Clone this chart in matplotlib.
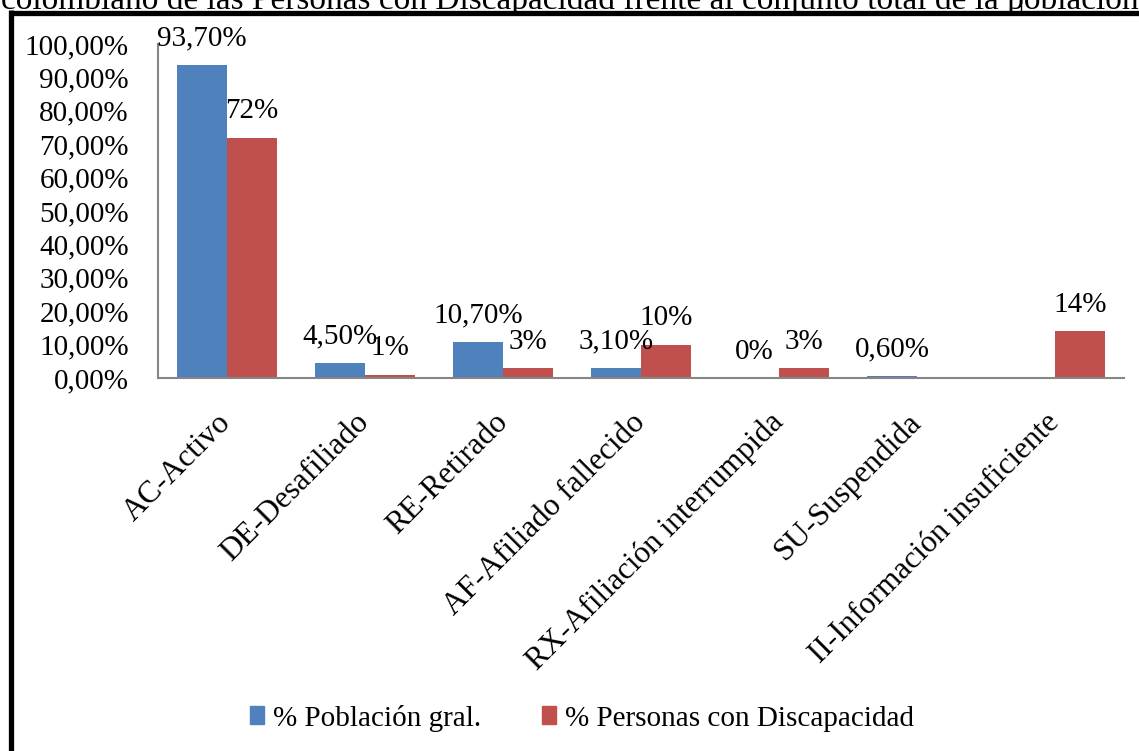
import numpy as np
import matplotlib
matplotlib.use('Agg')
import matplotlib.pyplot as plt
from matplotlib.lines import Line2D
from matplotlib.patches import Patch

plt.rcParams['font.family'] = ['Liberation Serif', 'DejaVu Serif']

categorias = ['AC-Activo', 'DE-Desafiliado', 'RE-Retirado', 'AF-Afiliado fallecido',
              'RX-Afiliación interrumpida', 'SU-Suspendida', 'II-Información insuficiente']
poblacion_gral = [0.937, 0.045, 0.107, 0.031, 0.0, 0.006, np.nan]
discapacidad = [0.72, 0.01, 0.03, 0.10, 0.03, np.nan, 0.14]
etiquetas_gral = ['93,70%', '4,50%', '10,70%', '3,10%', '0%', '0,60%', None]
etiquetas_disc = ['72%', '1%', '3%', '10%', '3%', None, '14%']
yticks = np.arange(0, 1.01, 0.1)
ytick_labels = ['%d,00%%' % round(v * 100) for v in yticks]

azul = '#4F81BD'
rojo = '#C0504D'

W, H = 1139, 751
fig = plt.figure(figsize=(W / 100, H / 100), dpi=100)
ax = fig.add_axes([158 / W, 1 - 378 / H, (1124 - 158) / W, (378 - 44) / H])

x = np.arange(len(categorias))
w = 0.362
b1 = ax.bar(x - w / 2, np.nan_to_num(poblacion_gral), w, color=azul, label='% Población gral.')
b2 = ax.bar(x + w / 2, np.nan_to_num(discapacidad), w, color=rojo, label='% Personas con Discapacidad')

for bars, vals, labs in [(b1, poblacion_gral, etiquetas_gral), (b2, discapacidad, etiquetas_disc)]:
    for rect, v, lab in zip(bars, vals, labs):
        if lab is None:
            continue
        ax.annotate(lab, (rect.get_x() + rect.get_width() / 2, v), xytext=(0, 14),
                    textcoords='offset points', ha='center', va='baseline', fontsize=21)

ax.set_xlim(-0.5, len(categorias) - 0.5)
ax.set_ylim(0, 1.0)
ax.set_yticks(yticks)
ax.set_yticklabels(ytick_labels, fontsize=21)
ax.set_xticks(x)
ax.set_xticklabels(categorias, rotation=45, ha='right', va='center', rotation_mode='anchor', fontsize=22.5)
ax.tick_params(axis='both', length=0)
ax.tick_params(axis='x', pad=29)
ax.tick_params(axis='y', pad=21)
for s in ['top', 'right']:
    ax.spines[s].set_visible(False)
for s in ['left', 'bottom']:
    ax.spines[s].set_color('#868686')
    ax.spines[s].set_linewidth(1.5)

fig.legend(handles=[Patch(color=azul, label='% Población gral.'),
                    Patch(color=rojo, label='% Personas con Discapacidad')],
           loc='center', bbox_to_anchor=(582 / W, 1 - 718 / H), ncol=2, frameon=False,
           fontsize=21, handlelength=0.48, handleheight=0.55, handletextpad=0.3, columnspacing=2.1)

# marco negro y texto cortado arriba
fig.add_artist(Line2D([10.5 / W, 1], [1 - 12.5 / H, 1 - 12.5 / H], color='black', lw=3.8,
                      transform=fig.transFigure, solid_capstyle='butt'))
fig.add_artist(Line2D([10.5 / W, 10.5 / W], [1 - 10 / H, 0], color='black', lw=3.8,
                      transform=fig.transFigure, solid_capstyle='butt'))
fig.add_artist(Line2D([1021 / W, 1021 / W], [1, 1 - 10 / H], color='black', lw=1,
                      transform=fig.transFigure))
fig.text(0.5, 1 - 9 / H, 'colombiano de las Personas con Discapacidad frente al conjunto total de la población',
         ha='center', va='baseline', fontsize=24)

fig.savefig('out.png', dpi=100)
